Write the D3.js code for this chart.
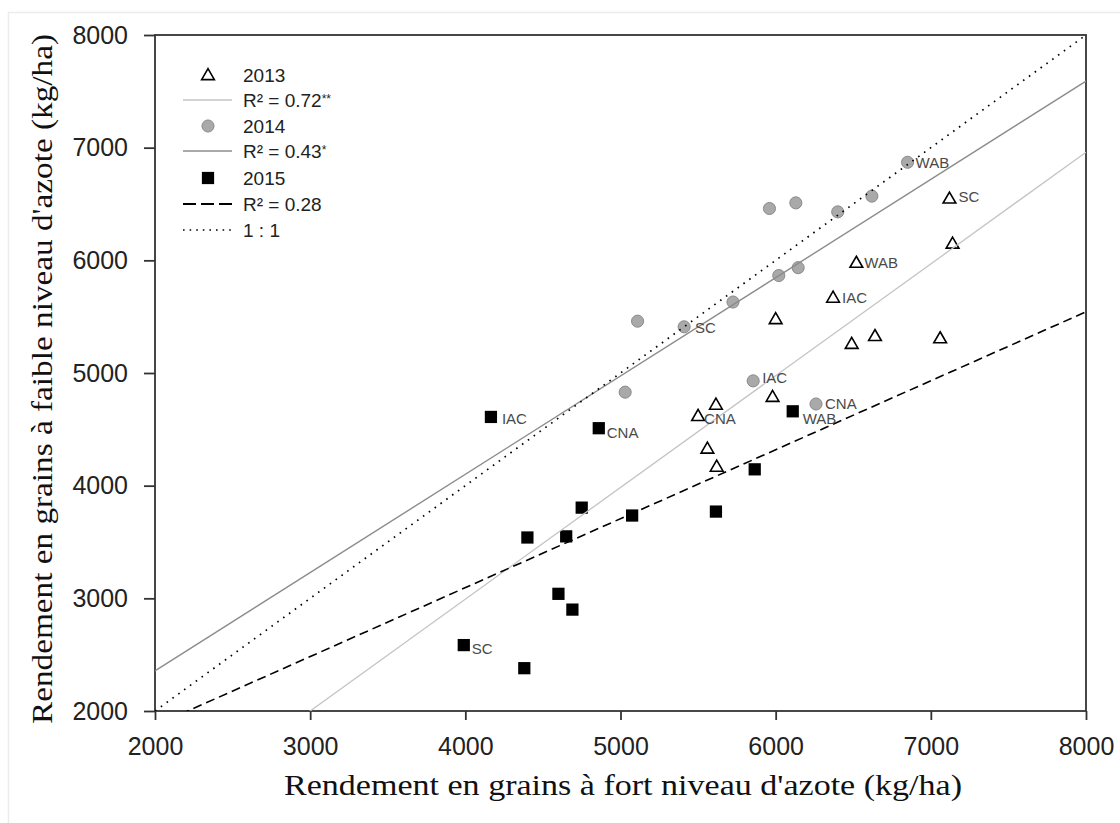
<!DOCTYPE html>
<html>
<head>
<meta charset="utf-8">
<script src="https://cdn.jsdelivr.net/npm/d3@7"></script>
<style>
  html, body { margin: 0; padding: 0; background: #fff; }
  svg { display: block; }
</style>
</head>
<body>
<svg id="chart" width="1120" height="823"></svg>
<script>
// Grain yield under high vs low nitrogen, three seasons (kg/ha)
const xTicks = [2000, 3000, 4000, 5000, 6000, 7000, 8000];
const yTicks = [2000, 3000, 4000, 5000, 6000, 7000, 8000];

// 2013 season
const x2013 = [7120, 7140, 6520, 6370, 6000, 6490, 6640, 7060, 5980, 5500, 5615, 5560, 5620];
const y2013 = [6550, 6150, 5980, 5670, 5480, 5260, 5330, 5310, 4790, 4620, 4720, 4330, 4170];
const lab2013 = ["SC", "", "WAB", "IAC", "", "", "", "", "", "CNA", "", "", ""];

// 2014 season
const x2014 = [6850, 6620, 6400, 5960, 6130, 6145, 6020, 5725, 5110, 5410, 5030, 5855, 6260];
const y2014 = [6870, 6570, 6430, 6460, 6510, 5935, 5865, 5630, 5460, 5410, 4830, 4930, 4725];
const lab2014 = ["WAB", "", "", "", "", "", "", "", "", "SC", "", "IAC", "CNA"];

// 2015 season
const x2015 = [4165, 4860, 6110, 4750, 4400, 4650, 4600, 4690, 3990, 4380, 5865, 5615, 5075];
const y2015 = [4610, 4510, 4660, 3805, 3540, 3550, 3040, 2900, 2585, 2380, 4145, 3770, 3735];
const lab2015 = ["IAC", "CNA", "WAB", "", "", "", "", "", "SC", "", "", "", ""];

// Linear fits (low-N yield = slope * high-N yield + intercept)
const fitYears = ["2013", "2014", "2015"];
const fitSlope = [0.992, 0.8725, 0.612];
const fitIntercept = [-976, 611, 647];
const fitR2 = ["R² = 0.72", "R² = 0.43", "R² = 0.28"];
const fitSig = ["**", "*", ""];

const svg = d3.select("#chart");
const L = 155, R = 1086, T = 35, B = 711;

const x = d3.scaleLinear().domain([2000, 8000]).range([L, R]);
const y = d3.scaleLinear().domain([2000, 8000]).range([B, T]);

const sans = "'Liberation Sans', Arial, sans-serif";
const serif = "'Liberation Serif', 'Times New Roman', serif";
const axisColor = "#333";

// faint outer frame
svg.append("rect")
  .attr("x", 8.5).attr("y", 12.5).attr("width", 1130).attr("height", 830)
  .attr("fill", "none").attr("stroke", "#ececec").attr("stroke-width", 1.5);

// clip for fitted lines
svg.append("defs").append("clipPath").attr("id", "plotClip")
  .append("rect").attr("x", L).attr("y", T).attr("width", R - L).attr("height", B - T);

// axes
const gy = svg.append("g").attr("transform", `translate(${L},0)`)
  .call(d3.axisLeft(y).tickValues(yTicks).tickSize(11).tickSizeOuter(0).tickPadding(16).tickFormat(d3.format("d")));
const gx = svg.append("g").attr("transform", `translate(0,${B})`)
  .call(d3.axisBottom(x).tickValues(xTicks).tickSize(9).tickSizeOuter(0).tickPadding(17).tickFormat(d3.format("d")));
[gx, gy].forEach(g => {
  g.select(".domain").remove();
  g.selectAll(".tick line").attr("stroke", axisColor).attr("stroke-width", 1.8);
  g.selectAll(".tick text").attr("font-family", sans).attr("font-size", 25).attr("fill", "#222");
});

// plot frame
svg.append("rect")
  .attr("x", L).attr("y", T).attr("width", R - L).attr("height", B - T)
  .attr("fill", "none").attr("stroke", axisColor).attr("stroke-width", 1.8);

// point labels offsets (px)
const labelNudge = {
  "2013SC": [9, -2], "2013WAB": [8, 0], "2013IAC": [9, 0], "2013CNA": [6, 3],
  "2014WAB": [8, 0], "2014SC": [11, 1], "2014IAC": [9, -3], "2014CNA": [9, 0],
  "2015IAC": [11, 2], "2015CNA": [8, 4], "2015WAB": [10, 7], "2015SC": [8, 4]
};

const series = [
  { year: "2013", xs: x2013, ys: y2013, labs: lab2013 },
  { year: "2014", xs: x2014, ys: y2014, labs: lab2014 },
  { year: "2015", xs: x2015, ys: y2015, labs: lab2015 }
];

const tri = d3.symbol().type(d3.symbolTriangle).size(70);
const circ = d3.symbol().type(d3.symbolCircle).size(115);
const sq = d3.symbol().type(d3.symbolSquare).size(150);

function drawMarker(g, year, px, py) {
  if (year === "2013") {
    g.append("path").attr("d", tri()).attr("transform", `translate(${px},${py + 1})`)
      .attr("fill", "#fff").attr("stroke", "#000").attr("stroke-width", 1.6);
  } else if (year === "2014") {
    g.append("path").attr("d", circ()).attr("transform", `translate(${px},${py})`)
      .attr("fill", "#a9a9a9").attr("stroke", "#8a8a8a").attr("stroke-width", 1);
  } else {
    g.append("path").attr("d", sq()).attr("transform", `translate(${px},${py})`)
      .attr("fill", "#000");
  }
}

const gPts = svg.append("g");
series.forEach(s => {
  s.xs.forEach((v, i) => drawMarker(gPts, s.year, x(v), y(s.ys[i])));
});

// fitted lines and 1:1 line (drawn over markers)
const gLines = svg.append("g").attr("clip-path", "url(#plotClip)");
const fitStyles = [
  { stroke: "#c4c4c4", width: 1.3, dash: null },
  { stroke: "#8c8c8c", width: 1.4, dash: null },
  { stroke: "#000", width: 1.6, dash: "9,5" }
];
const lineGen = d3.line().x(d => x(d[0])).y(d => y(d[1]));
fitYears.forEach((yr, i) => {
  const pts = [2000, 8000].map(v => [v, fitSlope[i] * v + fitIntercept[i]]);
  gLines.append("path").attr("d", lineGen(pts)).attr("fill", "none")
    .attr("stroke", fitStyles[i].stroke).attr("stroke-width", fitStyles[i].width)
    .attr("stroke-dasharray", fitStyles[i].dash);
});
gLines.append("path").attr("d", lineGen([[2000, 2000], [8000, 8000]])).attr("fill", "none")
  .attr("stroke", "#000").attr("stroke-width", 1.7).attr("stroke-dasharray", "1.6,5.6");

// point labels
const gLab = svg.append("g").attr("font-family", sans).attr("font-size", 15).attr("fill", "#4a4a4a");
series.forEach(s => {
  s.labs.forEach((t, i) => {
    if (!t) return;
    const n = labelNudge[s.year + t] || [9, 0];
    gLab.append("text").attr("x", x(s.xs[i]) + n[0]).attr("y", y(s.ys[i]) + n[1])
      .attr("dy", "0.36em").text(t);
  });
});

// legend
const lg = svg.append("g").attr("font-family", sans).attr("font-size", 19).attr("fill", "#222");
const rowY = [75, 100, 126, 151, 178, 204, 230];
const symX = 208, txtX = 243, sw0 = 183, sw1 = 232;
const legendRows = [
  { kind: "mark", year: "2013", text: "2013" },
  { kind: "line", fit: 0 },
  { kind: "mark", year: "2014", text: "2014" },
  { kind: "line", fit: 1 },
  { kind: "mark", year: "2015", text: "2015" },
  { kind: "line", fit: 2 },
  { kind: "one", text: "1 : 1" }
];
legendRows.forEach((r, i) => {
  const yy = rowY[i];
  if (r.kind === "mark") {
    drawMarker(lg, r.year, symX, yy);
    lg.append("text").attr("x", txtX).attr("y", yy).attr("dy", "0.36em").text(r.text);
  } else if (r.kind === "line") {
    const st = fitStyles[r.fit];
    lg.append("line").attr("x1", sw0).attr("x2", sw1).attr("y1", yy).attr("y2", yy)
      .attr("stroke", st.stroke).attr("stroke-width", st.width + 0.3)
      .attr("stroke-dasharray", st.dash ? "13,5" : null);
    const t = lg.append("text").attr("x", txtX).attr("y", yy).attr("dy", "0.36em").text(fitR2[r.fit]);
    if (fitSig[r.fit]) {
      t.append("tspan").attr("font-size", 12).attr("dy", "-0.35em").text(fitSig[r.fit]);
    }
  } else {
    lg.append("line").attr("x1", sw0).attr("x2", sw1).attr("y1", yy).attr("y2", yy)
      .attr("stroke", "#000").attr("stroke-width", 1.6).attr("stroke-dasharray", "1.6,5");
    lg.append("text").attr("x", txtX).attr("y", yy).attr("dy", "0.36em").text(r.text);
  }
});

// axis titles
svg.append("text")
  .attr("x", 623).attr("y", 795).attr("text-anchor", "middle")
  .attr("font-family", serif).attr("font-size", 29).attr("fill", "#111")
  .attr("textLength", 678).attr("lengthAdjust", "spacingAndGlyphs")
  .text("Rendement en grains à fort niveau d'azote (kg/ha)");
svg.append("text")
  .attr("transform", "translate(52,379) rotate(-90)").attr("text-anchor", "middle")
  .attr("font-family", serif).attr("font-size", 29).attr("fill", "#111")
  .attr("textLength", 690).attr("lengthAdjust", "spacingAndGlyphs")
  .text("Rendement en grains à faible niveau d'azote (kg/ha)");
</script>
</body>
</html>
